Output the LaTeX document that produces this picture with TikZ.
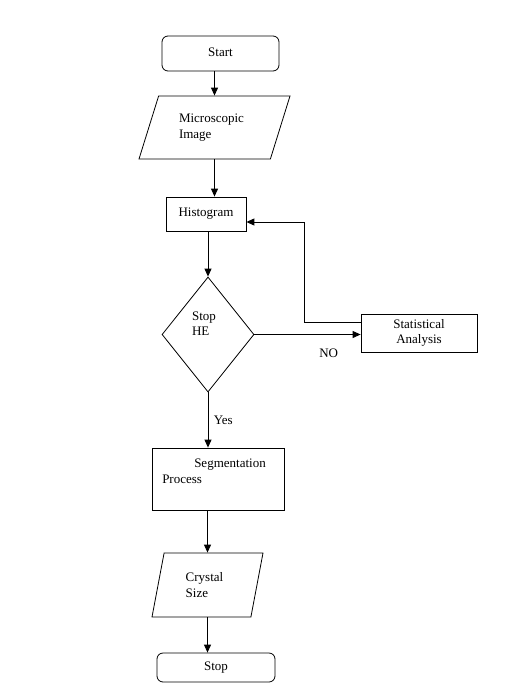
\documentclass[tikz,border=0pt]{standalone}
\usepackage{fontspec}
\setmainfont{Liberation Serif}
\usetikzlibrary{arrows.meta,shapes.geometric}

\begin{document}
\begin{tikzpicture}[x=1pt, y=-1pt, line width=0.8pt,
every node/.style={font=\fontsize{13}{15.5}\selectfont},
terminal/.style={rectangle, draw, rounded corners=6pt, inner sep=2pt, align=center},
io/.style={trapezium, draw, trapezium stretches body, inner sep=2pt, align=left},
process/.style={rectangle, draw, inner sep=2pt, align=left},
decision/.style={diamond, draw, inner sep=0pt, minimum width=92pt, minimum height=115pt, align=left},
flow/.style={-{Triangle[length=8pt,width=7pt]}, line width=1pt}
]
\useasboundingbox (0,0) rectangle (512,693);
\node[terminal, minimum width=117pt, minimum height=35pt] (start) at (220.5,53.5) {\raisebox{3pt}{Start}};
\node[io, trapezium left angle=57.6, trapezium right angle=122.4, minimum width=151pt, minimum height=63pt] (image) at (214.5,127.5) {\hspace*{-6pt}Microscopic\\\hspace*{-6pt}Image};
\node[process, minimum width=80pt, minimum height=34pt] (hist) at (206,214) {\raisebox{3pt}{Histogram}};
\node[decision] (he) at (208,334.5) {\hspace*{-8pt}Stop\\\hspace*{-8pt}HE\\[6pt]};
\node[process, align=center, minimum width=116pt, minimum height=38pt] (stat) at (419,333) {Statistical\\Analysis};
\node[process, minimum width=132pt, minimum height=62pt] (seg) at (218,479) {\hspace*{24pt}Segmentation\\\hspace*{-8pt}Process\\[0pt]};
\node[io, trapezium left angle=67.1, trapezium right angle=112.9, minimum width=111pt, minimum height=64pt] (crystal) at (207.5,585) {\hspace*{-6pt}Crystal\\\hspace*{-6pt}Size};
\node[terminal, minimum width=118pt, minimum height=29pt] (stop) at (216,667.5) {Stop};
\coordinate (bend) at (304,222);
\draw[flow] (image.north |- start.south) -- (image.north);
\draw[flow] (image.south) -- (image.south |- hist.north);
\draw[flow] (he.north |- hist.south) -- (he.north);
\draw[flow] (he.east) -- (he.east -| stat.west) node[pos=0.7, below=11pt] {NO};
\draw[flow] ([yshift=11pt]stat.west) -| (bend) -- (bend -| hist.east);
\draw[flow] (he.south) -- (he.south |- seg.north) node[midway, right=2pt] {Yes};
\draw[flow] (crystal.north |- seg.south) -- (crystal.north);
\draw[flow] (crystal.south) -- (crystal.south |- stop.north);
\end{tikzpicture}
\end{document}
